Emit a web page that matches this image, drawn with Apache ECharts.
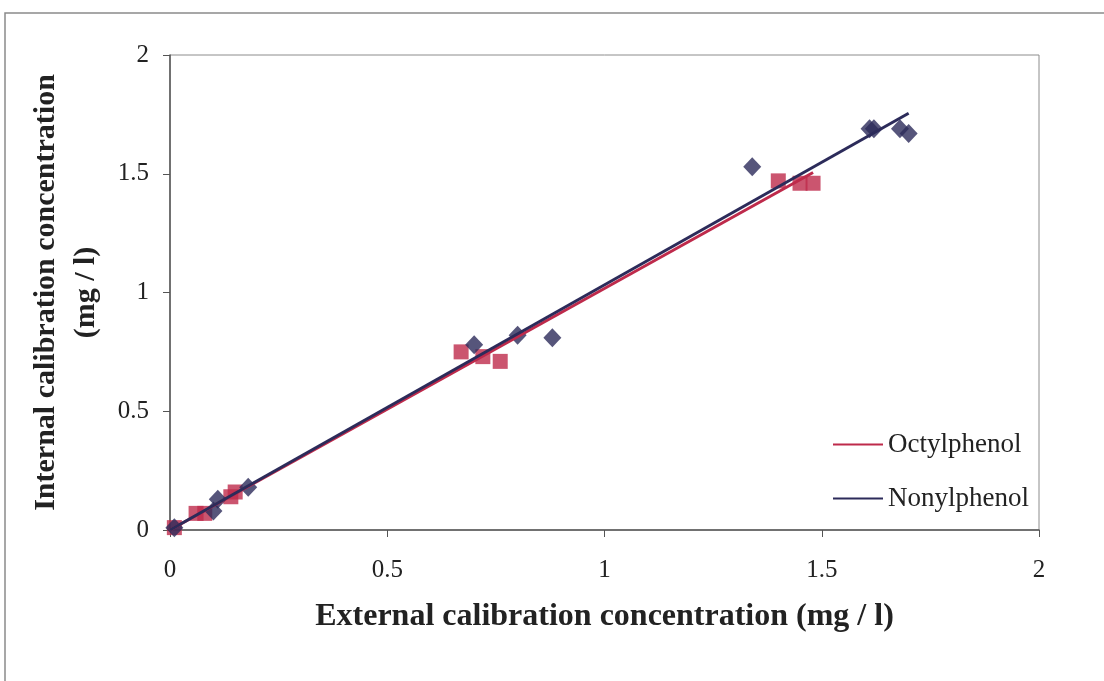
<!DOCTYPE html>
<html>
<head>
<meta charset="utf-8">
<script src="https://cdn.jsdelivr.net/npm/echarts@6/dist/echarts.min.js"></script>
<style>
  html, body { margin: 0; padding: 0; background: #ffffff; }
  #chart { width: 1104px; height: 681px; }
</style>
</head>
<body>
<div id="chart"></div>
<script>
// Measured concentrations (mg / l): external calibration (x) vs internal calibration (y)
const octylX = [0.01, 0.06, 0.08, 0.14, 0.15, 0.67, 0.72, 0.76, 1.40, 1.45, 1.48];
const octylY = [0.01, 0.07, 0.07, 0.14, 0.16, 0.75, 0.73, 0.71, 1.47, 1.46, 1.46];
const nonylX = [0.01, 0.10, 0.11, 0.18, 0.70, 0.80, 0.88, 1.34, 1.61, 1.62, 1.68, 1.70];
const nonylY = [0.01, 0.08, 0.13, 0.18, 0.78, 0.82, 0.81, 1.53, 1.69, 1.69, 1.69, 1.67];

// Linear trend lines: [start x, end x] and [start y, end y]
const octylTrendX = [0, 1.48];
const octylTrendY = [0.0, 1.505];
const nonylTrendX = [0, 1.70];
const nonylTrendY = [0.0, 1.755];

const seriesNames = ['Octylphenol', 'Nonylphenol'];
const axisTicks = [0, 0.5, 1, 1.5, 2];

const RED = '#BE2A4B';
const NAVY = '#2C2B5A';
const SERIF = '"Liberation Serif", "Times New Roman", serif';

const zip = (xs, ys) => xs.map((x, i) => [x, ys[i]]);

const chart = echarts.init(document.getElementById('chart'), null, { renderer: 'canvas' });

chart.setOption({
  animation: false,
  backgroundColor: '#ffffff',
  graphic: [{
    type: 'rect',
    shape: { x: 5, y: 13, width: 1200, height: 800 },
    style: { fill: 'none', stroke: '#8a8a8a', lineWidth: 1.5 },
    silent: true
  }],
  grid: {
    left: 170, right: 65, top: 55, bottom: 151,
    show: true, borderColor: '#8c8c8c', borderWidth: 1, backgroundColor: '#ffffff'
  },
  legend: {
    data: seriesNames,
    orient: 'vertical',
    left: 828, top: 425,
    icon: 'rect',
    itemWidth: 50, itemHeight: 2,
    itemGap: 25,
    textStyle: { fontFamily: SERIF, fontSize: 27, color: '#222', lineHeight: 29, padding: [0, 0, 0, 0] }
  },
  xAxis: {
    type: 'value',
    min: axisTicks[0], max: axisTicks[axisTicks.length - 1], interval: 0.5,
    name: 'External calibration concentration (mg / l)',
    nameLocation: 'middle', nameGap: 71,
    nameTextStyle: { fontFamily: SERIF, fontSize: 32, fontWeight: 'bold', color: '#222' },
    axisLine: { lineStyle: { color: '#555', width: 1.5 } },
    axisTick: { show: true, inside: false, length: 7, lineStyle: { color: '#555' } },
    axisLabel: { fontFamily: SERIF, fontSize: 25, color: '#222', margin: 28 },
    splitLine: { show: false }
  },
  yAxis: {
    type: 'value',
    min: axisTicks[0], max: axisTicks[axisTicks.length - 1], interval: 0.5,
    name: 'Internal calibration concentration\n(mg / l)',
    nameLocation: 'middle', nameGap: 64, nameRotate: 90,
    nameTextStyle: { fontFamily: SERIF, fontSize: 30, fontWeight: 'bold', color: '#222', lineHeight: 40 },
    axisLine: { lineStyle: { color: '#555', width: 1.5 } },
    axisTick: { show: true, inside: false, length: 7, lineStyle: { color: '#555' } },
    axisLabel: { fontFamily: SERIF, fontSize: 25, color: '#222', margin: 21 },
    splitLine: { show: false }
  },
  series: [
    {
      name: 'Octylphenol points',
      type: 'scatter',
      symbol: 'rect', symbolSize: 15,
      itemStyle: { color: RED },
      data: zip(octylX, octylY),
      z: 2
    },
    {
      name: 'Nonylphenol points',
      type: 'scatter',
      symbol: 'diamond', symbolSize: [18, 19],
      itemStyle: { color: NAVY },
      data: zip(nonylX, nonylY),
      z: 3
    },
    {
      name: seriesNames[0],
      type: 'line',
      showSymbol: false,
      lineStyle: { color: RED, width: 3 },
      itemStyle: { color: RED },
      data: zip(octylTrendX, octylTrendY),
      z: 4
    },
    {
      name: seriesNames[1],
      type: 'line',
      showSymbol: false,
      lineStyle: { color: NAVY, width: 3 },
      itemStyle: { color: NAVY },
      data: zip(nonylTrendX, nonylTrendY),
      z: 5
    }
  ]
});
</script>
</body>
</html>
